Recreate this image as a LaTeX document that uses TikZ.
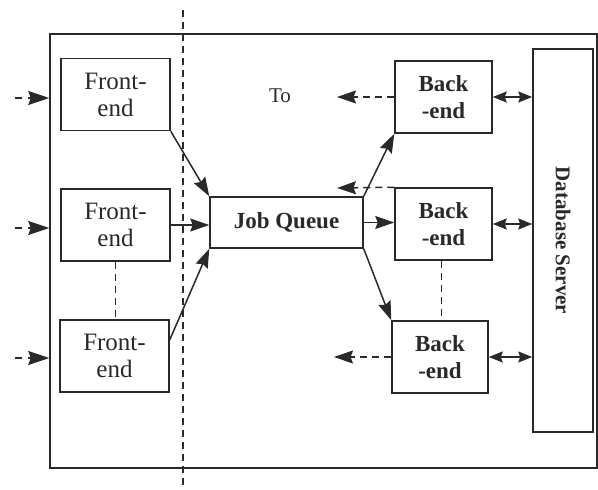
\documentclass[tikz,border=0pt]{standalone}
\usepackage{fontspec}
\setmainfont{Liberation Serif}
\usetikzlibrary{arrows.meta,calc}
\definecolor{ink}{gray}{0.16}
\begin{document}
\begin{tikzpicture}[x=1pt,y=-1pt,
  every node/.style={text=ink},
  box/.style={draw=ink, line width=1.5pt, inner sep=0pt, align=center},
  fe/.style={box, minimum width=109pt, minimum height=72pt, font=\fontsize{25}{27}\selectfont},
  be/.style={box, minimum width=97pt, minimum height=72pt, font=\bfseries\fontsize{23}{27}\selectfont},
  flow/.style={draw=ink, line width=1.5pt, -{Stealth[length=19pt,width=13pt,inset=2.5pt]}},
  both/.style={draw=ink, line width=1.5pt, {Stealth[length=14pt,width=11pt,inset=2pt]}-{Stealth[length=14pt,width=11pt,inset=2pt]}},
  inflow/.style={draw=ink, line width=1.5pt, dash pattern=on 7pt off 6pt, -{Stealth[length=21pt,width=14pt,inset=2.5pt]}},
  outflow/.style={draw=ink, line width=1.5pt, dash pattern=on 7pt off 5pt, -{Stealth[length=19pt,width=13pt,inset=2.5pt]}},
  link/.style={draw=ink, line width=1.1pt, dash pattern=on 7pt off 5pt}]
\useasboundingbox (0,0) rectangle (598,490);

% system boundary
\node[draw=ink, line width=1.5pt, minimum width=547pt, minimum height=434pt, inner sep=0pt] (sys) at (323.5,251) {};

% boundary between front and back half
\coordinate (cutT) at (183,10);
\coordinate (cutB) at (183,490);
\draw[link] (cutT) -- (cutB);

% front-ends
\node[fe] (fe1) at (115.5,94.5) {Front-\\end};
\node[fe] (fe2) at (115.5,225) {Front-\\end};
\node[fe] (fe3) at (114.5,356) {Front-\\end};

% job queue
\node[box, minimum width=153pt, minimum height=51pt, font=\bfseries\fontsize{23}{27}\selectfont] (jq) at (286.5,222.5) {Job Queue};

\node[font=\fontsize{21}{24}\selectfont] (to) at (280,96) {To};

% back-ends
\node[be] (be1) at (443.5,97) {Back\\-end};
\node[be] (be2) at (443.5,224) {Back\\-end};
\node[be, minimum width=96pt] (be3) at (440,357) {Back\\-end};

% database server
\node[box, minimum width=60pt, minimum height=383pt] (db) at (563,240.5) {};
\node[rotate=-90, font=\bfseries\fontsize{21}{24}\selectfont] (dbl) at (db.center) {Database Server};

% incoming requests
\coordinate (in1) at (15,98);
\coordinate (in2) at (15,228);
\coordinate (in3) at (15,358);
\draw[inflow] (in1) -- (in1 -| sys.west);
\draw[inflow] (in2) -- (in2 -| sys.west);
\draw[inflow] (in3) -- (in3 -| sys.west);

% front-ends feed the queue
\draw[flow] (fe1.south east) -- (jq.north west);
\draw[flow] (fe2.east) -- (fe2.east -| jq.west);
\draw[flow] ($(fe3.north east)!0.28!(fe3.south east)$) -- (jq.south west);

% queue dispatches to back-ends
\draw[flow] (jq.north east) -- (be1.south west);
\draw[flow] (jq.east) -- (jq.east -| be2.west);
\draw[flow] (jq.south east) -- (be3.north west);

% replies
\coordinate (out1) at (337,97);
\coordinate (out2) at (337,188);
\coordinate (out3) at (334,357);
\draw[outflow] (be1.west) -- (out1);
\draw[outflow] (be2.north west) -- (out2);
\draw[outflow] (be3.west) -- (out3);

% database access
\draw[both] (be1.east) -- (be1.east -| db.west);
\draw[both] (be2.east) -- (be2.east -| db.west);
\draw[both] (be3.east) -- (be3.east -| db.west);

% more of the same
\draw[link] (fe2.south) -- (fe2.south |- fe3.north);
\draw[link] ([xshift=-2pt]be2.south) -- ([xshift=-2pt]be2.south |- be3.north);
\end{tikzpicture}
\end{document}
